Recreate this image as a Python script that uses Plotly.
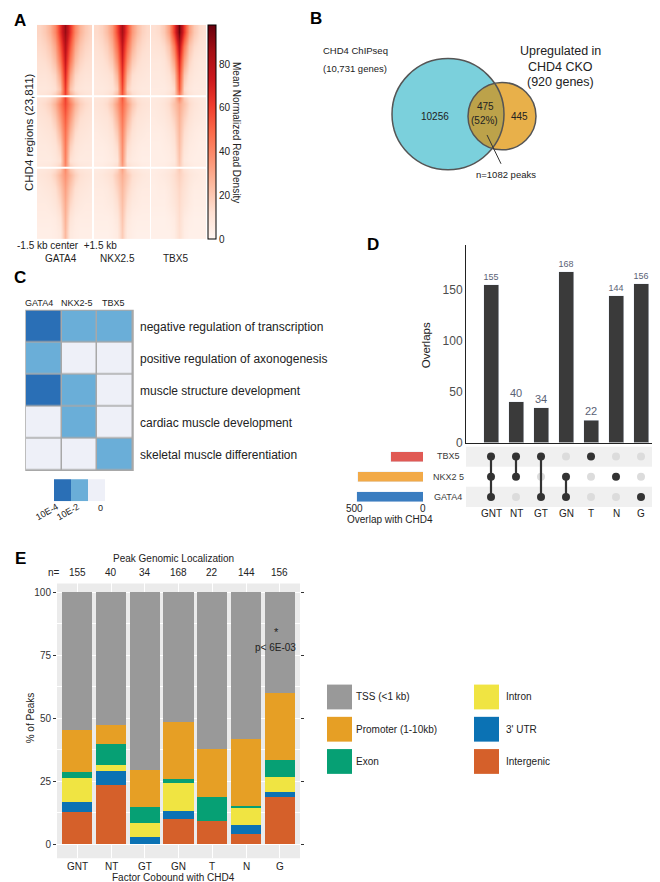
import numpy as np
import plotly.graph_objects as go

W, H = 660, 882
FONT = "Liberation Sans, Arial, Helvetica, sans-serif"

# ======================= DATA =======================
# Panel A: CHD4 regions read density (coarse half-profiles: centre bin -> edge bin), 3 clusters x 5 rows
heat_factors = ["GATA4", "NKX2.5", "TBX5"]
heat_bins_kb = [-1.5, -1.2, -0.9, -0.6, -0.3, 0.0, 0.3, 0.6, 0.9, 1.2, 1.5]
gata4_half = [
    [88, 64, 40, 27, 20, 16], [80, 54, 31, 21, 16, 14], [74, 44, 24, 16, 13, 12],
    [68, 32, 16, 12, 10, 10], [62, 22, 12, 9, 8, 8],
    [58, 42, 27, 18, 14, 12], [52, 34, 20, 13, 11, 10], [47, 26, 14, 10, 9, 8],
    [44, 18, 10, 8, 7, 7], [42, 12, 8, 6, 6, 6],
    [36, 26, 17, 12, 10, 9], [32, 20, 12, 9, 8, 7], [29, 15, 9, 7, 6, 6],
    [27, 10, 6, 5, 5, 5], [25, 7, 5, 4, 4, 4],
]
nkx25_half = [
    [84, 58, 35, 24, 17, 14], [76, 48, 28, 18, 14, 12], [70, 38, 20, 14, 11, 10],
    [64, 27, 13, 10, 9, 8], [58, 18, 10, 8, 7, 7],
    [50, 34, 21, 14, 11, 10], [45, 27, 15, 10, 9, 8], [41, 20, 11, 8, 7, 6],
    [38, 14, 8, 6, 5, 5], [36, 9, 6, 5, 4, 4],
    [28, 20, 13, 10, 8, 7], [25, 16, 10, 7, 6, 6], [23, 12, 7, 6, 5, 5],
    [21, 8, 5, 4, 4, 4], [19, 6, 4, 3, 3, 3],
]
tbx5_half = [
    [96, 62, 33, 20, 14, 12], [80, 44, 22, 14, 11, 10], [68, 32, 16, 10, 8, 8],
    [60, 21, 11, 8, 7, 7], [54, 14, 8, 6, 6, 6],
    [30, 22, 14, 10, 8, 7], [27, 17, 11, 8, 7, 6], [25, 13, 8, 6, 5, 5],
    [23, 10, 6, 5, 4, 4], [21, 7, 5, 4, 4, 4],
    [17, 13, 9, 7, 6, 5], [15, 11, 7, 5, 5, 4], [14, 9, 6, 4, 4, 4],
    [13, 6, 4, 3, 3, 3], [12, 5, 3, 3, 3, 3],
]
cluster_breaks = [4.5, 9.5]

# Panel B: Venn
chip_label = ["CHD4 ChIPseq", "(10,731 genes)"]
cko_label = ["Upregulated in", "CHD4 CKO", "(920 genes)"]
venn_only_chip = "10256"
venn_both = ["475", "(52%)"]
venn_only_cko = "445"
venn_note = "n=1082 peaks"

# Panel C: GO terms
go_factors = ["GATA4", "NKX2-5", "TBX5"]
go_terms = ["negative regulation of transcription", "positive regulation of axonogenesis",
            "muscle structure development", "cardiac muscle development",
            "skeletal muscle differentiation"]
go_level = [[2, 1, 1], [1, 0, 0], [2, 1, 0], [0, 1, 0], [0, 0, 1]]   # 2: 10E-4, 1: 10E-2, 0: n.s.
go_level_labels = ["10E-4", "10E-2", "0"]
go_colors = ["#eef0f8", "#6aaed8", "#2a6fb6"]

# Panel D: UpSet
combos = ["GNT", "NT", "GT", "GN", "T", "N", "G"]
overlaps = [155, 40, 34, 168, 22, 144, 156]
sets = ["GATA4", "NKX2 5", "TBX5"]
set_letter = {"GATA4": "G", "NKX2 5": "N", "TBX5": "T"}
set_colors = {"GATA4": "#3a7dc0", "NKX2 5": "#f2aa48", "TBX5": "#e05a55"}

# Panel E: genomic localization (% of peaks), stacked bottom -> top
loc_cats = ["Intergenic", "3' UTR", "Intron", "Exon", "Promoter (1-10kb)", "TSS (<1 kb)"]
loc_colors = ["#d5602a", "#0b72b4", "#f0e442", "#06a074", "#e69f25", "#999999"]
loc_pct = {
    "Intergenic":        [12.9, 23.6, 0.0, 10.2, 9.4, 3.9, 18.8],
    "3' UTR":            [3.8, 5.3, 2.9, 2.9, 0.0, 3.8, 1.9],
    "Intron":            [9.8, 2.6, 5.6, 11.2, 0.0, 6.7, 5.9],
    "Exon":              [2.0, 8.1, 6.2, 1.8, 9.5, 0.7, 6.9],
    "Promoter (1-10kb)": [17.0, 7.8, 14.6, 22.5, 19.0, 26.8, 26.5],
    "TSS (<1 kb)":       [54.5, 52.6, 70.7, 51.4, 62.1, 58.1, 40.0],
}
legend_cols = [["TSS (<1 kb)", "Promoter (1-10kb)", "Exon"], ["Intron", "3' UTR", "Intergenic"]]
e_ticks = [0, 25, 50, 75, 100]

# ======================= HELPERS =======================
def fx(x):
    return x / W

def fy(y):
    return 1 - y / H

def dom_x(a, b):
    return [fx(a), fx(b)]

def dom_y(top, bottom):
    return [fy(bottom), fy(top)]

annotations = []
shapes = []

def ann(x, y, text, size=10, color="#222222", xanchor="center", yanchor="middle", angle=0, bold=False):
    annotations.append(dict(
        x=fx(x), y=fy(y), xref="paper", yref="paper", text=(f"<b>{text}</b>" if bold else text),
        showarrow=False, xanchor=xanchor, yanchor=yanchor, textangle=angle,
        font=dict(size=size, color=color, family=FONT)))

def rect_px(x0, y0, x1, y1, color, line=None):
    shapes.append(dict(type="rect", xref="paper", yref="paper", x0=fx(x0), x1=fx(x1),
                       y0=fy(y1), y1=fy(y0), fillcolor=color,
                       line=dict(width=0) if line is None else line, layer="above"))

hidden = dict(showgrid=False, zeroline=False, showticklabels=False, ticks="", showline=False)

fig = go.Figure()
layout_axes = {}

# ======================= PANEL A =======================
reds = [[0.0, "#fff5f0"], [0.125, "#fee0d2"], [0.25, "#fcbba1"], [0.375, "#fc9272"],
        [0.5, "#fb6a4a"], [0.625, "#ef3b2c"], [0.75, "#cb181d"], [0.875, "#a50f15"], [1.0, "#67000d"]]
halves = [gata4_half, nkx25_half, tbx5_half]
a_cols = [(29, 84), (86, 142), (143, 198)]
for i, (half, (c0, c1)) in enumerate(zip(halves, a_cols)):
    z = [row[::-1] + row[1:] for row in half]
    xa = "x" if i == 0 else f"x{i+1}"
    fig.add_trace(go.Heatmap(z=z, x=heat_bins_kb, y=list(range(len(z))), coloraxis="coloraxis",
                             zsmooth="best", xaxis=xa, yaxis="y", hoverinfo="skip"))
    key = "xaxis" if i == 0 else f"xaxis{i+1}"
    layout_axes[key] = dict(domain=dom_x(c0, c1), anchor="y", range=[-1.65, 1.65], **hidden)
    for b in cluster_breaks:
        shapes.append(dict(type="line", xref=f"{xa} domain", yref="y", x0=0, x1=1, y0=b, y1=b,
                           line=dict(color="white", width=2), layer="above"))
layout_axes["yaxis"] = dict(domain=dom_y(17, 233), anchor="x", range=[14.5, -0.5], **hidden)

ann(12, 13, "A", 17, "#000", bold=True)
ann(21, 125, "CHD4 regions (23,811)", 11.5, angle=-90)
ann(7, 239, "-1.5 kb center  +1.5 kb", 10, xanchor="left")
for name, cx in zip(heat_factors, [53, 109, 168]):
    ann(cx, 252, name, 10)
ann(229, 125, "Mean Normalized Read Density", 10, angle=90)

# ======================= PANEL B =======================
big_c, big_r = (440.0, 107.0), 56.0
sm_c, sm_r = (494.0, 109.0), 34.0
layout_axes["xaxis4"] = dict(domain=dom_x(330, 600), anchor="y4", range=[330, 600], **hidden)
layout_axes["yaxis4"] = dict(domain=dom_y(25, 185), anchor="x4", range=[185, 25], **hidden)
for (cx, cy), r, col in [(big_c, big_r, "#7bd0dc"), (sm_c, sm_r, "#e8b04a")]:
    shapes.append(dict(type="circle", xref="x4", yref="y4", x0=cx - r, x1=cx + r, y0=cy - r, y1=cy + r,
                       fillcolor=col, line=dict(width=0), layer="below"))

def arc_inside(c, r, other_c, other_r):
    ang0 = np.arctan2(other_c[1] - c[1], other_c[0] - c[0])
    t = np.linspace(ang0 - np.pi, ang0 + np.pi, 721)
    xs, ys = c[0] + r * np.cos(t), c[1] + r * np.sin(t)
    keep = (xs - other_c[0]) ** 2 + (ys - other_c[1]) ** 2 <= other_r ** 2
    return xs[keep], ys[keep]

ax2, ay2 = arc_inside(sm_c, sm_r, big_c, big_r)
ax1, ay1 = arc_inside(big_c, big_r, sm_c, sm_r)
fig.add_trace(go.Scatter(x=np.concatenate([ax2, ax1]), y=np.concatenate([ay2, ay1]),
                         fill="toself", fillcolor="#bca24a", mode="none", xaxis="x4", yaxis="y4",
                         hoverinfo="skip", showlegend=False))
for (cx, cy), r in [(big_c, big_r), (sm_c, sm_r)]:
    shapes.append(dict(type="circle", xref="x4", yref="y4", x0=cx - r, x1=cx + r, y0=cy - r, y1=cy + r,
                       line=dict(color="#555555", width=1.5), layer="above"))
shapes.append(dict(type="line", xref="x4", yref="y4", x0=479, y0=128, x1=493, y1=157,
                   line=dict(color="#333333", width=1), layer="above"))
ann(308, 11, "B", 17, "#000", bold=True)
ann(347, 43, chip_label[0], 9.5)
ann(347, 61, chip_label[1], 9.5)
for k, t in enumerate(cko_label):
    ann(552, 43 + 16 * k, t, 12.5)
ann(427, 109, venn_only_chip, 10)
ann(477, 99, venn_both[0], 10)
ann(476, 113, venn_both[1], 10)
ann(511, 109, venn_only_cko, 10)
ann(498, 168, venn_note, 9.5)

# ======================= PANEL C =======================
fig.add_trace(go.Heatmap(z=go_level, x=list(range(3)), y=list(range(5)), zmin=0, zmax=2,
                         colorscale=[[0, go_colors[0]], [0.5, go_colors[1]], [1, go_colors[2]]],
                         showscale=False, xgap=1.5, ygap=1.5, xaxis="x5", yaxis="y5", hoverinfo="skip"))
layout_axes["xaxis5"] = dict(domain=dom_x(18, 125), anchor="y5", range=[-0.5, 2.5], **hidden)
layout_axes["yaxis5"] = dict(domain=dom_y(305, 466), anchor="x5", range=[4.5, -0.5], **hidden)
shapes.append(dict(type="rect", xref="x5 domain", yref="y5 domain", x0=0, x1=1, y0=0, y1=1,
                   fillcolor="#a8a8a8", line=dict(color="#a8a8a8", width=1.5), layer="below"))
ann(12, 272, "C", 17, "#000", bold=True)
for name, cx in zip(go_factors, [31, 69, 105]):
    ann(cx, 297, name, 9)
for k, term in enumerate(go_terms):
    ann(130, 322 + 32.2 * k, term, 12, xanchor="left")
for k, col in enumerate(go_colors[::-1]):
    rect_px(46 + 17 * k, 475, 63 + 17 * k, 497, col)
ann(39, 508, go_level_labels[0], 9, angle=-30)
ann(60, 508, go_level_labels[1], 9, angle=-30)
ann(92, 504, go_level_labels[2], 9)

# ======================= PANEL D =======================
fig.add_trace(go.Bar(x=combos, y=overlaps, marker_color="#3a3a3a", width=0.6, xaxis="x6", yaxis="y6",
                     text=[str(v) for v in overlaps], textposition="outside", cliponaxis=False,
                     textfont=dict(size=11, color="#5a6275", family=FONT), hoverinfo="skip", showlegend=False))
layout_axes["xaxis6"] = dict(domain=dom_x(458, 658), anchor="y6", type="category", range=[-1, 7],
                             showgrid=False, zeroline=False, showticklabels=False, ticks="",
                             showline=True, linecolor="#222", linewidth=1)
layout_axes["yaxis6"] = dict(domain=dom_y(239, 438), anchor="x6", range=[0, 194], tickvals=[0, 50, 100, 150],
                             showgrid=False, zeroline=False, showline=True, linecolor="#222", linewidth=1,
                             ticks="", tickfont=dict(size=12, color="#4d4d4d", family=FONT))
ann(418, 340, "Overlaps", 11.5, "#222", angle=-90)
ann(365, 238, "D", 17, "#000", bold=True)

# matrix
set_row = {"GATA4": 0, "NKX2 5": 1, "TBX5": 2}
for s in sets:
    if s != "NKX2 5":
        r = set_row[s]
        shapes.append(dict(type="rect", xref="x7 domain", yref="y7", x0=0, x1=1, y0=r - 0.5, y1=r + 0.5,
                           fillcolor="#f0f0f0", line=dict(width=0), layer="below"))
for s in sets:
    r = set_row[s]
    cols = ["#333333" if set_letter[s] in c else "#dcdcdc" for c in combos]
    fig.add_trace(go.Scatter(x=combos, y=[r] * len(combos), mode="markers",
                             marker=dict(size=8, color=cols), xaxis="x7", yaxis="y7",
                             hoverinfo="skip", showlegend=False))
for c in combos:
    rows = [set_row[s] for s in sets if set_letter[s] in c]
    if len(rows) > 1:
        fig.add_trace(go.Scatter(x=[c, c], y=[min(rows), max(rows)], mode="lines",
                                 line=dict(color="#333333", width=2.2), xaxis="x7", yaxis="y7",
                                 hoverinfo="skip", showlegend=False))
layout_axes["xaxis7"] = dict(domain=dom_x(458, 658), anchor="y7", type="category", range=[-1, 7], **hidden)
layout_axes["yaxis7"] = dict(domain=dom_y(442, 503), anchor="x7", range=[-0.5, 2.5], **hidden)
d_centers = [458 + (k + 1) * 200 / 8 for k in range(7)]
for cx, c in zip(d_centers, combos):
    ann(cx, 510, c, 10)

# set sizes
set_sizes = [sum(v for c, v in zip(combos, overlaps) if set_letter[s] in c) for s in sets]
fig.add_trace(go.Bar(y=[set_row[s] for s in sets], x=set_sizes, orientation="h", width=0.5,
                     marker_color=[set_colors[s] for s in sets], xaxis="x8", yaxis="y8",
                     hoverinfo="skip", showlegend=False))
layout_axes["xaxis8"] = dict(domain=dom_x(346, 415), anchor="y8", range=[536, 0], **hidden)
layout_axes["yaxis8"] = dict(domain=dom_y(442, 503), anchor="x8", range=[-0.5, 2.5], **hidden)
for s in sets:
    ann(440, 452 + (2 - set_row[s]) * 20.5, s, 9, "#3a3a3a")
ann(346, 505, "500", 10)
ann(415, 505, "0", 10)
ann(382, 516, "Overlap with CHD4", 10)

# ======================= PANEL E =======================
for cat, col in zip(loc_cats, loc_colors):
    fig.add_trace(go.Bar(x=combos, y=loc_pct[cat], name=cat, marker=dict(color=col, line=dict(width=0)),
                         width=0.9, xaxis="x9", yaxis="y9", hoverinfo="skip", showlegend=False))
layout_axes["xaxis9"] = dict(domain=dom_x(49, 292), anchor="y9", type="category", range=[-0.6, 6.6],
                             showgrid=True, gridcolor="white", gridwidth=1, zeroline=False, showline=False,
                             ticks="", showticklabels=False)
layout_axes["yaxis9"] = dict(domain=dom_y(580, 857), anchor="x9", range=[-5.5, 103.5], tickvals=e_ticks,
                             showgrid=True, gridcolor="white", gridwidth=1, zeroline=False, showline=False,
                             ticks="outside", ticklen=3, tickcolor="#333", mirror="ticks",
                             minor=dict(tickvals=[12.5, 37.5, 62.5, 87.5], showgrid=True,
                                        gridcolor="white", gridwidth=0.5),
                             tickfont=dict(size=10, color="#333", family=FONT))
shapes.append(dict(type="rect", xref="x9 domain", yref="y9 domain", x0=0, x1=1, y0=0, y1=1,
                   fillcolor="#ebebeb", line=dict(width=0), layer="below"))
ann(12, 555, "E", 17, "#000", bold=True)
ann(165, 555, "Peak Genomic Localization", 10)
ann(46, 569, "n=", 10)
e_centers = [49 + (k + 0.6) * 243 / 7.2 for k in range(7)]
for cx, n in zip(e_centers, overlaps):
    ann(cx, 569, str(n), 10)
for cx, c in zip(e_centers, combos):
    ann(cx, 865, c, 10)
ann(22, 716, "% of Peaks", 10, angle=-90)
ann(165, 876, "Factor Cobound with CHD4", 10)
ann(268, 637, "*", 11, yanchor="bottom")
ann(267, 637, "p< 6E-03", 10, yanchor="top")

cat_color = dict(zip(loc_cats, loc_colors))
for ci, (col_entries, sx, tx) in enumerate(zip(legend_cols, [319, 466], [346, 496])):
    for ri, cat in enumerate(col_entries):
        y0 = 682 + ri * 32.5
        rect_px(sx, y0, sx + 25, y0 + 25, cat_color[cat])
        ann(tx, y0 + 12.5, cat, 10, xanchor="left")

fig.update_layout(
    width=W, height=H, margin=dict(l=0, r=0, t=0, b=0),
    paper_bgcolor="white", plot_bgcolor="rgba(0,0,0,0)",
    barmode="stack", showlegend=False,
    font=dict(family=FONT, size=10, color="#222"),
    coloraxis=dict(colorscale=reds, cmin=0, cmax=98,
                   colorbar=dict(x=fx(200), xanchor="left", y=fy(125), yanchor="middle",
                                 len=216 / H, lenmode="fraction", thickness=8, xpad=0, ypad=0,
                                 outlinecolor="#000", outlinewidth=1, tickvals=[0, 20, 40, 60, 80],
                                 ticks="", tickfont=dict(size=10, family=FONT, color="#222"))),
    annotations=annotations, shapes=shapes,
    **layout_axes,
)
fig.write_html("out.html")
